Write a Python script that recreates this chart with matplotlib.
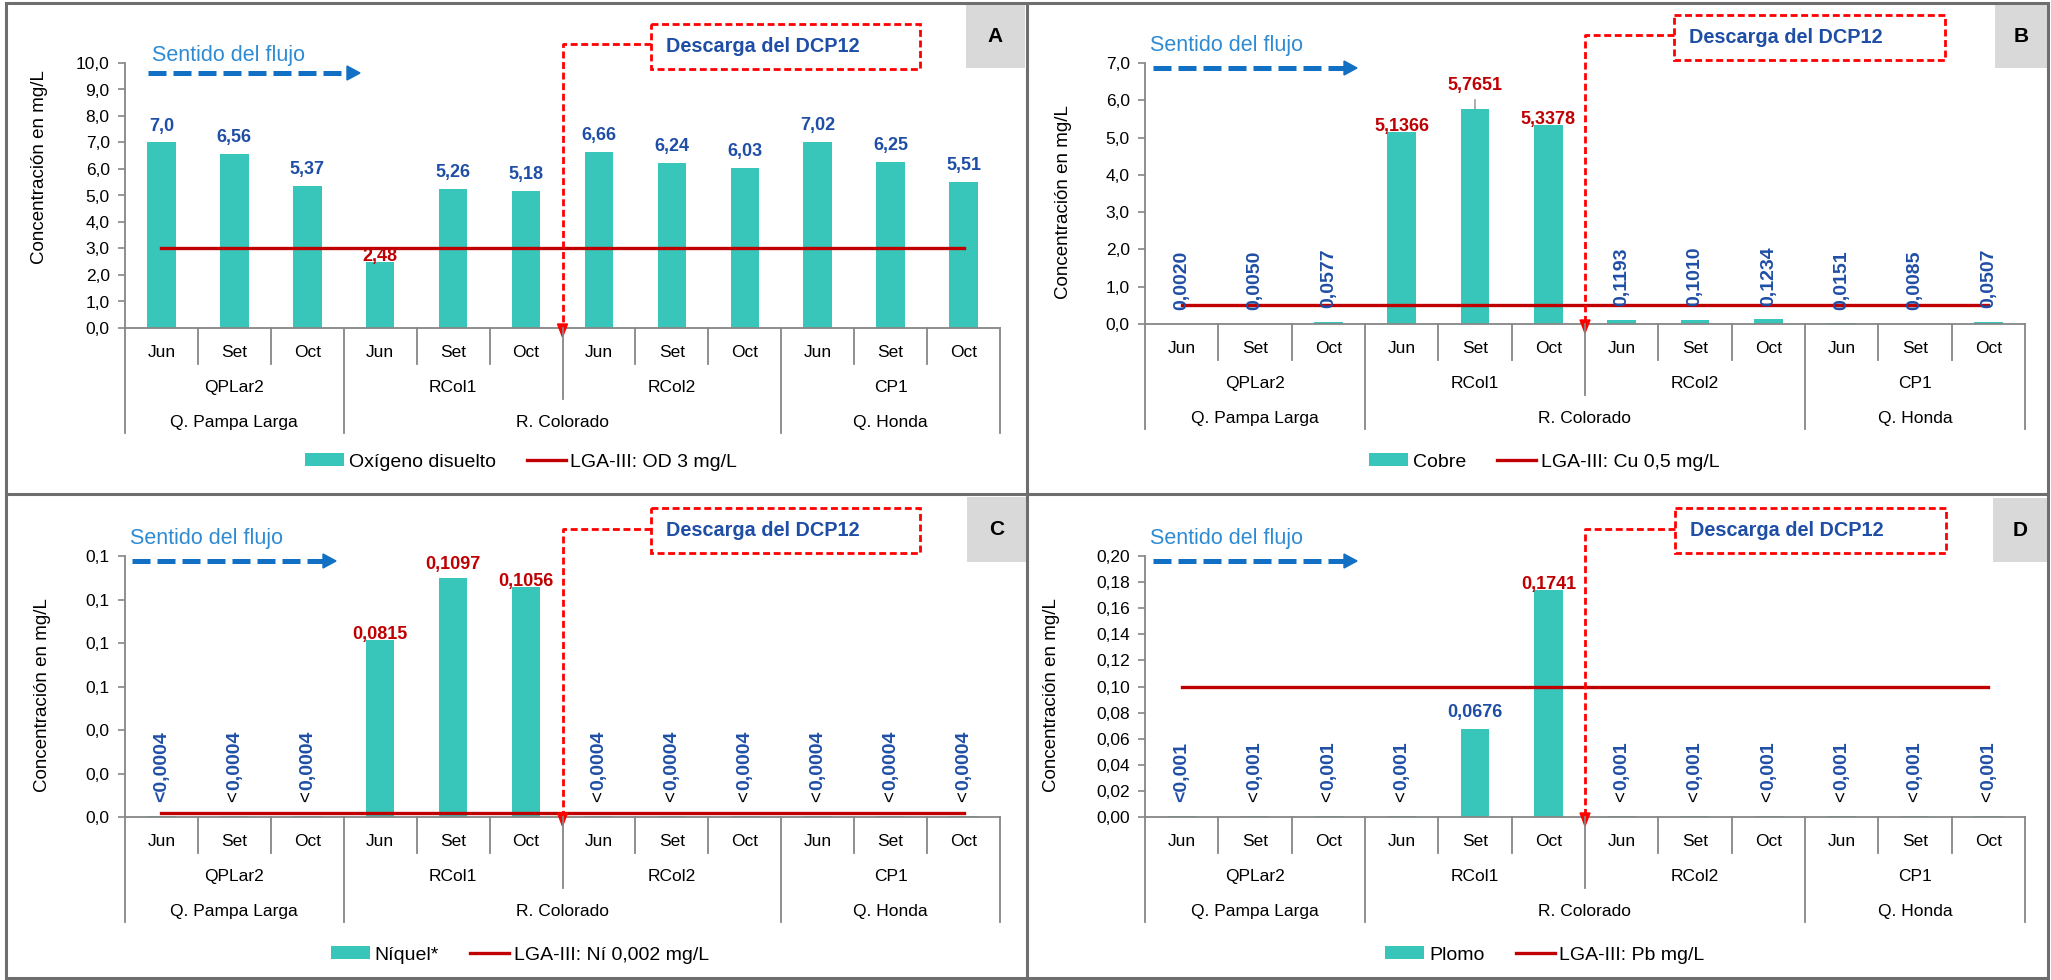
import numpy as np
import matplotlib
matplotlib.use('Agg')
import matplotlib.pyplot as plt
from matplotlib.lines import Line2D
from matplotlib.patches import Rectangle, Polygon
from matplotlib.ticker import FuncFormatter
from matplotlib.transforms import Affine2D, blended_transform_factory

plt.rcParams['font.family'] = ['Liberation Sans', 'DejaVu Sans']

# ---------------------------------------------------------------- datos
meses = ['Jun', 'Set', 'Oct', 'Jun', 'Set', 'Oct', 'Jun', 'Set', 'Oct', 'Jun', 'Set', 'Oct']
estaciones = ['QPLar2', 'RCol1', 'RCol2', 'CP1']
rios = ['Q. Pampa Larga', 'R. Colorado', 'Q. Honda']
estaciones_por_rio = [1, 2, 1]

od_txt = ['7,0', '6,56', '5,37', '2,48', '5,26', '5,18', '6,66', '6,24', '6,03', '7,02', '6,25', '5,51']
cu_txt = ['0,0020', '0,0050', '0,0577', '5,1366', '5,7651', '5,3378',
          '0,1193', '0,1010', '0,1234', '0,0151', '0,0085', '0,0507']
ni_txt = ['<0,0004', '<0,0004', '<0,0004', '0,0815', '0,1097', '0,1056',
          '<0,0004', '<0,0004', '<0,0004', '<0,0004', '<0,0004', '<0,0004']
pb_txt = ['<0,001', '<0,001', '<0,001', '<0,001', '0,0676', '0,1741',
          '<0,001', '<0,001', '<0,001', '<0,001', '<0,001', '<0,001']

od_lim = 3.0
cu_lim = 0.5
ni_lim = 0.002
pb_lim = 0.10

# ---------------------------------------------------------------- estilo
W, H = 2051, 980
TURQ = '#37c6b9'
ROJO = '#c00000'
AZUL = '#1f4ea6'
AZUL_FLUJO = '#2e8bd3'
AZUL_FLECHA = '#1170c4'
GRIS = '#868686'
GRIS_MARCO = '#6e6e6e'

fig = plt.figure(figsize=(W / 100, H / 100), dpi=100)
# pixeles con origen arriba-izquierda
PX = Affine2D().scale(1 / W, -1 / H).translate(0, 1) + fig.transFigure


def a_num(s):
    return float(s.replace('<', '').replace(',', '.'))


paneles = [
    dict(tag='A', txt=od_txt, lim=od_lim, minimo=True, ymax=10, paso=1, dec=1,
         serie='Oxígeno disuelto', norma='LGA-III: OD 3 mg/L'),
    dict(tag='B', txt=cu_txt, lim=cu_lim, minimo=False, ymax=7, paso=1, dec=1,
         serie='Cobre', norma='LGA-III: Cu 0,5 mg/L'),
    dict(tag='C', txt=ni_txt, lim=ni_lim, minimo=False, ymax=0.12, paso=0.02, dec=1,
         serie='Níquel*', norma='LGA-III: Ní 0,002 mg/L'),
    dict(tag='D', txt=pb_txt, lim=pb_lim, minimo=False, ymax=0.20, paso=0.02, dec=2,
         serie='Plomo', norma='LGA-III: Pb mg/L'),
]

# posiciones en pixeles de cada panel
geom = {
    'A': dict(ejes=(125, 63, 1000, 328), tag=(966, 5, 1025, 68), caja=(651, 24, 920, 69),
              flujo=(152, 61), flecha=(148, 360, 73), leyenda=(521, 462), ylab=(40, 167)),
    'B': dict(ejes=(1145, 63, 2025, 324), tag=(1995, 4, 2047, 68), caja=(1674, 15, 1945, 60),
              flujo=(1150, 51), flecha=(1153, 1357, 68), leyenda=(1544, 462), ylab=(1064, 202)),
    'C': dict(ejes=(125, 556, 1000, 817), tag=(967, 497, 1026, 562), caja=(651, 508, 920, 553),
              flujo=(130, 544), flecha=(132, 336, 561), leyenda=(520, 955), ylab=(43, 695)),
    'D': dict(ejes=(1145, 556, 2025, 817), tag=(1993, 498, 2047, 562), caja=(1675, 508, 1946, 553),
              flujo=(1150, 544), flecha=(1153, 1357, 561), leyenda=(1545, 955), ylab=(1051, 695)),
}

# desplazamiento (px) de etiquetas que no siguen la regla general
desplaza = {('B', 4): 19, ('C', 4): 9}


def etiqueta_vertical(ax, i, v, s, primera):
    """Etiqueta girada sobre una barra pequena; el signo '<' va aparte."""
    base = 10
    if s.startswith('<') and not primera:
        ax.annotate('<', (i, v), xytext=(0, base), textcoords='offset points',
                    rotation=90, ha='center', va='bottom', color='black',
                    fontsize=13.5, zorder=4)
        base += 8.5
        s = s[1:]
    ax.annotate(s, (i, v), xytext=(0, base), textcoords='offset points',
                rotation=90, ha='center', va='bottom', color=AZUL,
                fontsize=14, fontweight='bold', zorder=4)


def dibujar(p, g):
    l, t, r, b = g['ejes']
    ax = fig.add_axes([l / W, 1 - b / H, (r - l) / W, (b - t) / H])
    vals = [a_num(s) for s in p['txt']]
    x = np.arange(len(vals))
    barras = ax.bar(x, vals, width=0.39, color=TURQ, zorder=2)
    linea, = ax.plot(x, [p['lim']] * len(x), color=ROJO, lw=2.4, zorder=3)

    ax.set_xlim(-0.5, len(x) - 0.5)
    ax.set_ylim(0, p['ymax'])
    ax.set_yticks(np.arange(0, p['ymax'] + p['paso'] / 2, p['paso']))
    dec = p['dec']
    ax.yaxis.set_major_formatter(FuncFormatter(lambda v, _: f'{v:.{dec}f}'.replace('.', ',')))
    ax.set_xticks([])
    for s in ['top', 'right']:
        ax.spines[s].set_visible(False)
    for s in ['left', 'bottom']:
        ax.spines[s].set_color(GRIS)
        ax.spines[s].set_linewidth(1.3)
    ax.tick_params(axis='y', color=GRIS, length=5, width=1.2, labelsize=12.5, pad=6)

    ax.set_ylabel('Concentración en mg/L', fontsize=13.5, va='center')
    ax.yaxis.set_label_coords((g['ylab'][0] - l) / (r - l), (b - g['ylab'][1]) / (b - t))

    # etiquetas de valores
    primera = True
    for i, (s, v) in enumerate(zip(p['txt'], vals)):
        falla = v < p['lim'] if p['minimo'] else v > p['lim']
        if v < 0.2 * p['ymax'] and not falla:
            etiqueta_vertical(ax, i, v, s, primera)
            primera = False
            continue
        off = desplaza.get((p['tag'], i), 1 if falla else 12)
        flecha = None
        if (p['tag'], i) in desplaza and off > 15:
            flecha = dict(arrowstyle='-', color='#808080', lw=0.9, shrinkA=2, shrinkB=0)
        ax.annotate(s, (i, v), xytext=(0, off * 0.72), textcoords='offset points',
                    ha='center', va='baseline', color=ROJO if falla else AZUL,
                    fontsize=13, fontweight='bold', arrowprops=flecha, zorder=4)

    # ejes de categorias en tres niveles
    tr = blended_transform_factory(ax.transData, PX)
    for i, m in enumerate(meses):
        ax.text(i, b + 24, m, transform=tr, ha='center', va='center', fontsize=12.5)
    for k, e in enumerate(estaciones):
        ax.text(3 * k + 1, b + 59, e, transform=tr, ha='center', va='center', fontsize=12.5)
    lim_rios = [0]
    for n in estaciones_por_rio:
        lim_rios.append(lim_rios[-1] + 3 * n)
    for k, rio in enumerate(rios):
        ax.text((lim_rios[k] + lim_rios[k + 1] - 1) / 2, b + 94, rio, transform=tr,
                ha='center', va='center', fontsize=12.5)
    for i in range(len(x) + 1):
        if i in lim_rios:
            largo = 105
        elif i % 3 == 0:
            largo = 71
        else:
            largo = 36
        fig.add_artist(Line2D([i - 0.5, i - 0.5], [b, b + largo], transform=tr,
                              color=GRIS, lw=1.3))

    # leyenda
    ax.legend([barras, linea], [p['serie'], p['norma']], loc='center',
              bbox_to_anchor=(g['leyenda'][0] / W, 1 - g['leyenda'][1] / H),
              bbox_transform=fig.transFigure, ncol=2, frameon=False, fontsize=14,
              handlelength=2.0, handleheight=0.65, handletextpad=0.25, columnspacing=1.6)

    # recuadro con la letra del panel
    tl, tt, tr_, tb = g['tag']
    fig.add_artist(Rectangle((tl, tt), tr_ - tl, tb - tt, transform=PX,
                             facecolor='#d9d9d9', edgecolor='none'))
    fig.text((tl + tr_) / 2 / W, 1 - (tt + tb) / 2 / H, p['tag'], ha='center', va='center',
             fontsize=15, fontweight='bold')

    # sentido del flujo
    fx0, fyb = g['flujo']
    fig.text(fx0 / W, 1 - fyb / H, 'Sentido del flujo', color=AZUL_FLUJO,
             fontsize=15.5, va='baseline', ha='left')
    a0, a1, ay = g['flecha']
    fig.add_artist(Line2D([a0, a1 - 10], [ay, ay], transform=PX, color=AZUL_FLECHA,
                          lw=3.6, linestyle=(0, (3.6, 1.4))))
    fig.add_artist(Polygon([[a1, ay], [a1 - 13, ay - 7], [a1 - 13, ay + 7]],
                           closed=True, transform=PX, color=AZUL_FLECHA))

    # punto de descarga
    cl, ct, cr, cb = g['caja']
    fig.add_artist(Rectangle((cl, ct), cr - cl, cb - ct, transform=PX, fill=False,
                             edgecolor='#ff0000', lw=2.0, linestyle=(0, (2.5, 1.3))))
    cy = (ct + cb) / 2
    fig.text((cl + 15) / W, 1 - cy / H, 'Descarga del DCP12', color=AZUL,
             fontsize=14.3, fontweight='bold', ha='left', va='center')
    xb = ax.transData.transform((5.5, 0))[0]
    fig.add_artist(Line2D([cl, xb, xb], [cy - 2, cy - 2, b - 4], transform=PX,
                          color='#ff0000', lw=2.0, linestyle=(0, (2.5, 1.3))))
    fig.add_artist(Polygon([[xb, b + 9], [xb - 5, b - 4], [xb + 5, b - 4]],
                           closed=True, transform=PX, color='#ff0000'))


for p in paneles:
    dibujar(p, geom[p['tag']])

# marco general y divisiones entre paneles
fig.add_artist(Rectangle((6, 3), 2042, 975, transform=PX, fill=False,
                         edgecolor=GRIS_MARCO, lw=2.2))
fig.add_artist(Line2D([1027, 1027], [3, 978], transform=PX, color=GRIS_MARCO, lw=2.2))
fig.add_artist(Line2D([6, 2048], [494, 494], transform=PX, color=GRIS_MARCO, lw=2.2))

fig.savefig('out.png', dpi=100)
